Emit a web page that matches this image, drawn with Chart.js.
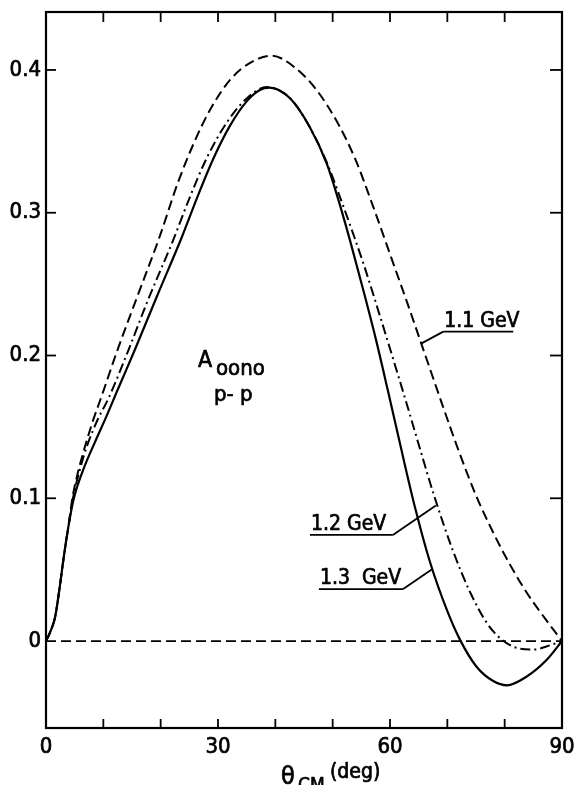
<!DOCTYPE html>
<html>
<head>
<meta charset="utf-8">
<title>Aoono p-p</title>
<script src="https://cdn.jsdelivr.net/npm/chart.js@4.4.0/dist/chart.umd.min.js"></script>
<style>
  html, body { margin: 0; padding: 0; background: #fff; }
  canvas { display: block; }
</style>
</head>
<body>
<canvas id="chart" width="576" height="785"></canvas>
<script>
// values: theta_CM (deg) vs A_oono
var theta11 = [0, 0.7, 1.6, 2.4, 3.1, 3.9, 4.6, 5.5, 6.5, 8.0, 10.0, 12.3, 15.8, 19.8, 23.0, 25.7, 28.6, 32.1, 35.6, 39.4, 43.0, 47.0, 51.0, 54.0, 57.0, 60.0, 63.0, 66.0, 69.0, 72.0, 75.0, 78.0, 81.0, 84.0, 87.0, 90];
var aoono11 = [0, 0.006, 0.017, 0.038, 0.059, 0.080, 0.100, 0.117, 0.132, 0.152, 0.175, 0.202, 0.240, 0.283, 0.321, 0.348, 0.372, 0.393, 0.405, 0.410, 0.403, 0.387, 0.362, 0.337, 0.305, 0.271, 0.237, 0.202, 0.167, 0.133, 0.102, 0.076, 0.053, 0.033, 0.016, 0];

var theta12 = [0, 0.7, 1.6, 2.4, 3.1, 3.9, 4.7, 5.9, 7.1, 9.0, 10.9, 14.4, 17.8, 22.2, 25.1, 28.0, 31.5, 35.0, 38.5, 42.6, 46.0, 49.0, 51.0, 53.6, 55.4, 58.3, 61.2, 63.0, 65.5, 67.6, 71.0, 74.0, 77.0, 79.2, 81.5, 85.0, 87.9, 90];
var aoono12 = [0, 0.006, 0.017, 0.038, 0.059, 0.080, 0.100, 0.120, 0.136, 0.155, 0.170, 0.204, 0.239, 0.281, 0.311, 0.338, 0.363, 0.380, 0.388, 0.380, 0.360, 0.335, 0.314, 0.285, 0.264, 0.227, 0.189, 0.165, 0.131, 0.103, 0.063, 0.034, 0.012, 0.002, -0.004, -0.006, -0.003, 0];

var theta13 = [0, 0.7, 1.6, 2.4, 3.1, 3.9, 4.8, 6.5, 8.5, 10.5, 12.5, 15.5, 19.3, 23.7, 26.5, 29.2, 32.1, 35.0, 37.3, 39.0, 42.6, 46.0, 49.0, 51.0, 53.0, 55.0, 57.5, 59.6, 61.7, 64.4, 67.0, 69.9, 72.2, 75.1, 78.0, 80.4, 83.8, 87.3, 90];
var aoono13 = [0, 0.006, 0.017, 0.038, 0.059, 0.080, 0.099, 0.120, 0.139, 0.157, 0.176, 0.204, 0.241, 0.283, 0.312, 0.338, 0.361, 0.378, 0.386, 0.3876, 0.380, 0.360, 0.334, 0.309, 0.281, 0.251, 0.212, 0.176, 0.139, 0.093, 0.055, 0.022, 0.001, -0.018, -0.028, -0.031, -0.025, -0.0133, 0];

var thetaZero = [0, 90];
var aoonoZero = [0, 0];

var xTickLabels = [0, 30, 60, 90];
var xMinorTicks = [10, 20, 30, 40, 50, 60, 70, 80];
var yTickLabels = [0, 0.1, 0.2, 0.3, 0.4];

// energy labels with their leader lines (data units)
var energyLabels = [
  { text: '1.1 GeV', tip: [65.5, 0.2085], knee: [69.3, 0.2167], end: 81.5 },
  { text: '1.2 GeV', tip: [68.0, 0.0950], knee: [60.5, 0.0743], end: 46.05 },
  { text: '1.3  GeV', tip: [67.4, 0.0504], knee: [62.3, 0.0364], end: 47.6 }
];

var FONT = '"DejaVu Sans Condensed", "DejaVu Sans", sans-serif';

function toPoints(xs, ys) {
  return xs.map(function (x, i) { return { x: x, y: ys[i] }; });
}

function curve(label, xs, ys, dash, width) {
  return {
    label: label,
    data: toPoints(xs, ys),
    showLine: true,
    borderColor: '#000',
    borderWidth: width,
    borderDash: dash,
    pointRadius: 0,
    cubicInterpolationMode: 'monotone',
    fill: false,
    clip: 4
  };
}

// heavier text, like the printed lettering
function text(ctx, s, x, y) {
  ctx.fillText(s, x, y);
  ctx.strokeText(s, x, y);
}

var framePlugin = {
  id: 'frame',
  afterDraw: function (chart) {
    var ctx = chart.ctx;
    var xs = chart.scales.x, ys = chart.scales.y;
    var a = chart.chartArea;

    function seg(x1, y1, x2, y2) {
      ctx.beginPath(); ctx.moveTo(x1, y1); ctx.lineTo(x2, y2); ctx.stroke();
    }

    ctx.save();
    ctx.strokeStyle = '#000';
    ctx.fillStyle = '#000';
    ctx.lineWidth = 2.2;
    ctx.strokeRect(a.left, a.top, a.right - a.left, a.bottom - a.top);

    // inward ticks
    ctx.lineWidth = 1.8;
    xMinorTicks.forEach(function (v) {
      var px = xs.getPixelForValue(v);
      seg(px, a.bottom, px, a.bottom - 9);
      seg(px, a.top, px, a.top + 10);
    });
    yTickLabels.forEach(function (v) {
      if (v === 0) return;
      var py = ys.getPixelForValue(v);
      seg(a.left, py, a.left + 10, py);
      seg(a.right, py, a.right - 12, py);
    });

    // energy leader lines
    energyLabels.forEach(function (l) {
      var tx = xs.getPixelForValue(l.tip[0]), ty = ys.getPixelForValue(l.tip[1]);
      var kx = xs.getPixelForValue(l.knee[0]), ky = ys.getPixelForValue(l.knee[1]);
      var ex = xs.getPixelForValue(l.end);
      seg(tx, ty, kx, ky);
      seg(kx, ky, ex, ky);
    });

    ctx.lineWidth = 0.7;
    ctx.lineJoin = 'round';

    // tick labels
    ctx.font = '22px ' + FONT;
    ctx.textAlign = 'center';
    ctx.textBaseline = 'alphabetic';
    xTickLabels.forEach(function (v) {
      text(ctx, String(v), xs.getPixelForValue(v), a.bottom + 25);
    });
    ctx.textAlign = 'right';
    ctx.textBaseline = 'middle';
    yTickLabels.forEach(function (v) {
      text(ctx, String(v), a.left - 5, ys.getPixelForValue(v));
    });

    // axis title: theta_CM (deg)
    ctx.textAlign = 'left';
    ctx.textBaseline = 'alphabetic';
    ctx.font = '25px ' + FONT;
    text(ctx, '\u03b8', 281, a.bottom + 56);
    ctx.font = '19px ' + FONT;
    text(ctx, 'CM', 298, a.bottom + 63);
    ctx.font = '21px ' + FONT;
    text(ctx, '(deg)', 330, a.bottom + 50);

    // energy label texts
    ctx.font = '21px ' + FONT;
    energyLabels.forEach(function (l) {
      var kx = xs.getPixelForValue(l.knee[0]), ky = ys.getPixelForValue(l.knee[1]);
      var ex = xs.getPixelForValue(l.end);
      text(ctx, l.text, Math.min(kx, ex) + 1, ky - 5);
    });

    // reaction label
    var ax = xs.getPixelForValue(26.5), ay = ys.getPixelForValue(0.192);
    ctx.font = '23px ' + FONT;
    text(ctx, 'A', ax, ay);
    ctx.font = '22px ' + FONT;
    text(ctx, 'oono', ax + 18, ay + 8);
    text(ctx, 'p- p', ax + 16, ay + 34);

    ctx.restore();
  }
};

new Chart(document.getElementById('chart'), {
  type: 'scatter',
  data: {
    datasets: [
      curve('zero', thetaZero, aoonoZero, [10, 5], 1.8),
      curve('1.1 GeV', theta11, aoono11, [10, 5], 2),
      curve('1.2 GeV', theta12, aoono12, [10, 4, 2, 4], 2),
      curve('1.3 GeV', theta13, aoono13, [], 2.2)
    ]
  },
  options: {
    responsive: false,
    animation: false,
    events: [],
    layout: { padding: { left: 46, right: 14, top: 12, bottom: 57 } },
    plugins: { legend: { display: false }, tooltip: { enabled: false } },
    scales: {
      x: { type: 'linear', min: 0, max: 90, display: false },
      y: { type: 'linear', min: -0.0609, max: 0.4406, display: false }
    }
  },
  plugins: [framePlugin]
});
</script>
</body>
</html>
